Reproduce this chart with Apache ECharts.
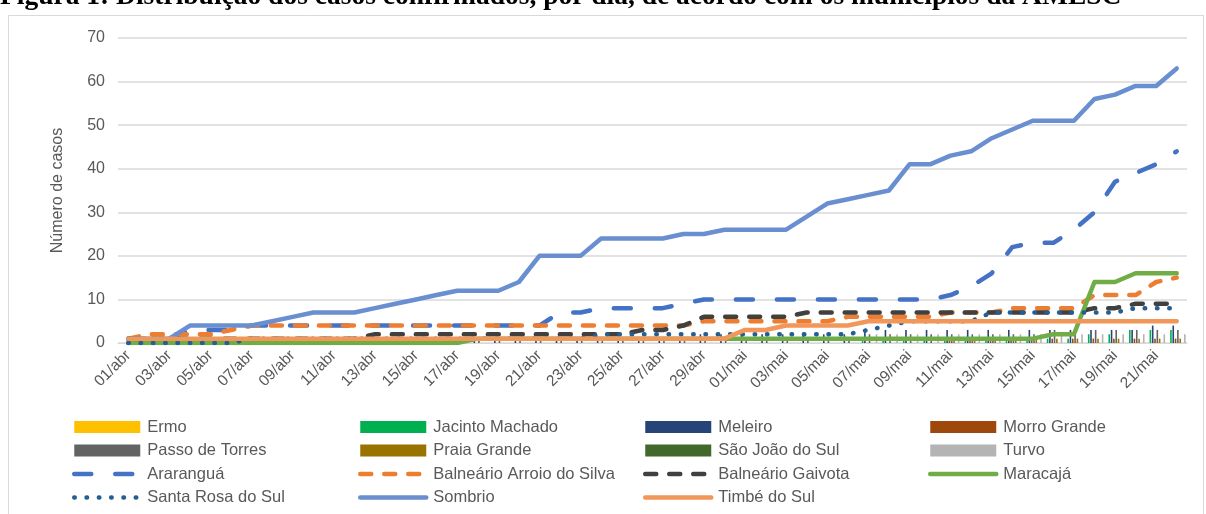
<!DOCTYPE html>
<html>
<head>
<meta charset="utf-8">
<script src="https://cdn.jsdelivr.net/npm/echarts@6/dist/echarts.min.js"></script>
<style>
html,body{margin:0;padding:0;background:#fff;}
#c{width:1206px;height:514px;}
</style>
</head>
<body>
<div id="c"></div>
<script>
const categories = ["01/abr","02/abr","03/abr","04/abr","05/abr","06/abr","07/abr","08/abr","09/abr","10/abr",
"11/abr","12/abr","13/abr","14/abr","15/abr","16/abr","17/abr","18/abr","19/abr","20/abr",
"21/abr","22/abr","23/abr","24/abr","25/abr","26/abr","27/abr","28/abr","29/abr","30/abr",
"01/mai","02/mai","03/mai","04/mai","05/mai","06/mai","07/mai","08/mai","09/mai","10/mai",
"11/mai","12/mai","13/mai","14/mai","15/mai","16/mai","17/mai","18/mai","19/mai","20/mai",
"21/mai","22/mai"];

// bar series (small municipalities)
const ermo =          [0,0,0,0,0,0,0,0,0,0, 0,0,0,0,0,0,0,0,0,0, 0,0,0,0,0,0,0,0,0,0, 0,0,0,0,0,0,0,0,0,0, 0,0,0,0,0,0,0,0,0,0, 0,0];
const jacinto =       [0,0,0,0,0,0,0,0,0,0, 0,0,0,0,0,0,0,0,0,0, 0,0,0,0,0,0,0,0,0,0, 0,0,0,0,0,0,1,1,1,1, 1,1,1,1,1,1,1,2,2,3, 3,3];
const meleiro =       [0,0,0,0,0,0,0,0,0,0, 0,0,0,0,0,0,0,1,1,1, 1,1,1,1,1,1,1,1,2,2, 2,2,2,2,2,2,3,3,3,3, 3,3,3,3,3,3,3,3,3,3, 4,4];
const morroGrande =   [0,0,0,0,0,0,0,0,0,0, 0,0,0,0,0,0,0,0,0,0, 0,0,0,0,0,0,0,0,0,0, 0,0,0,0,0,0,0,0,0,0, 1,1,1,1,1,1,1,1,1,1, 1,1];
const passoTorres =   [0,0,0,0,0,0,0,0,0,0, 0,0,0,0,0,0,0,1,1,1, 1,1,1,1,1,1,1,1,1,1, 1,1,1,1,1,1,2,2,2,2, 2,2,2,2,2,3,3,3,3,3, 3,3];
const praiaGrande =   [0,0,0,0,0,0,0,0,0,0, 0,0,0,0,0,0,0,0,0,0, 0,0,0,0,0,0,0,0,0,0, 0,0,0,0,0,0,0,0,0,0, 1,1,1,1,1,1,1,1,1,1, 1,1];
const saoJoao =       [0,0,0,0,0,0,0,0,0,0, 0,0,0,0,0,0,0,0,0,0, 0,0,0,0,0,0,0,0,0,0, 0,0,0,0,0,0,0,0,0,0, 0,0,0,0,0,0,0,0,0,0, 0,0];
const turvo =         [0,0,0,0,0,0,0,0,0,0, 0,0,0,0,0,0,0,0,0,0, 0,0,0,0,0,0,0,0,0,0, 0,0,0,0,0,0,2,2,2,2, 2,2,2,2,2,2,2,2,2,2, 2,2];

// line series
const ararangua =     [1,1,1,3,3,3,4,4,4,4, 4,4,4,4,4,4,4,4,4,4, 4,7,7,8,8,8,8,9,10,10, 10,10,10,10,10,10,10,10,10,10, 11,13,16,22,23,23,26,30,37,39, 41,44];
const arroioSilva =   [1,2,2,2,2,3,4,4,4,4, 4,4,4,4,4,4,4,4,4,4, 4,4,4,4,4,4,4,4,5,5, 5,5,5,5,5,6,6,6,6,6, 7,7,7,8,8,8,8,11,11,11, 14,15];
const gaivota =       [1,1,1,1,1,1,1,1,1,1, 1,1,2,2,2,2,2,2,2,2, 2,2,2,2,2,3,3,4,6,6, 6,6,6,7,7,7,7,7,7,7, 7,7,7,7,7,7,7,8,8,9, 9,9];
const maracaja =      [0,0,0,0,0,0,0,0,0,0, 0,0,0,0,0,0,0,1,1,1, 1,1,1,1,1,1,1,1,1,1, 1,1,1,1,1,1,1,1,1,1, 1,1,1,1,1,2,2,14,14,16, 16,16];
const santaRosa =     [0,0,0,0,0,0,1,1,1,1, 1,1,1,1,1,1,1,1,1,1, 1,1,1,2,2,2,2,2,2,2, 2,2,2,2,2,2,3,4,5,5, 5,5,7,7,7,7,7,7,7,8, 8,8];
const sombrio =       [1,1,1,4,4,4,4,5,6,7, 7,7,8,9,10,11,12,12,12,14, 20,20,20,24,24,24,24,25,25,26, 26,26,26,29,32,33,34,35,41,41, 43,44,47,49,51,51,51,56,57,59, 59,63];
const timbe =         [1,1,1,1,1,1,1,1,1,1, 1,1,1,1,1,1,1,1,1,1, 1,1,1,1,1,1,1,1,1,1, 3,3,4,4,4,4,5,5,5,5, 5,5,5,5,5,5,5,5,5,5, 5,5];

const yTicks = {min: 0, max: 70, interval: 10};

const barDefs = [
  ["Ermo", ermo, "#FFC000"],
  ["Jacinto Machado", jacinto, "#00B050"],
  ["Meleiro", meleiro, "#264478"],
  ["Morro Grande", morroGrande, "#9E480E"],
  ["Passo de Torres", passoTorres, "#636363"],
  ["Praia Grande", praiaGrande, "#997300"],
  ["São João do Sul", saoJoao, "#43682B"],
  ["Turvo", turvo, "#B4B4B4"]
];
const lineDefs = [
  ["Araranguá", ararangua, "#4472C4", [17, 24]],
  ["Balneário Arroio do Silva", arroioSilva, "#ED7D31", [11, 13]],
  ["Balneário Gaivota", gaivota, "#404040", [11, 13]],
  ["Maracajá", maracaja, "#70AD47", null],
  ["Santa Rosa do Sul", santaRosa, "#255E91", [0.5, 11.8]],
  ["Sombrio", sombrio, "#6A8FD0", null],
  ["Timbé do Sul", timbe, "#F1975A", null]
];

const series = [];
barDefs.forEach(d => series.push({
  name: d[0], type: "bar", data: d[1], barWidth: 1.6, barGap: "45%",
  itemStyle: {color: d[2]}
}));
lineDefs.forEach(d => series.push({
  name: d[0], type: "line", data: d[1], symbol: "none", showSymbol: false,
  itemStyle: {color: d[2]},
  lineStyle: {color: d[2], width: 4.5, type: d[3] ? d[3] : "solid", cap: "round", join: "round"}
}));

const legendText = {color: "#595959", fontSize: 16.5, lineHeight: 18, fontFamily: "Liberation Sans", padding: [0, 0, 0, 2]};
function mkLegend(left, names) {
  return {
    orient: "vertical", left: left, top: 418, padding: 0,
    itemWidth: 66, itemHeight: 12, itemGap: 5.5,
    textStyle: legendText,
    lineStyle: {width: 4.5, cap: "round"},
    data: names.map(n => barDefs.some(b => b[0] === n)
      ? {name: n, icon: "rect"}
      : {name: n, itemStyle: {color: "rgba(0,0,0,0)", borderWidth: 0, opacity: 0}})
  };
}

const chart = echarts.init(document.getElementById("c"));
chart.setOption({
  animation: false,
  backgroundColor: "#fff",
  graphic: [
    {type: "rect", shape: {x: 8.5, y: 15.5, width: 1195, height: 520}, style: {fill: "none", stroke: "#D9D9D9", lineWidth: 1}, z: -10},
    {type: "text", left: 0, top: -17, style: {text: "Figura 1: Distribuição dos casos confirmados, por dia, de acordo com os municípios da AMESC", font: "bold 27.5px 'Liberation Serif'", fill: "#000"}}
  ],
  grid: {left: 118, top: 38, width: 1069, height: 305, containLabel: false},
  legend: [
    mkLegend(72, ["Ermo", "Passo de Torres", "Araranguá", "Santa Rosa do Sul"]),
    mkLegend(358, ["Jacinto Machado", "Praia Grande", "Balneário Arroio do Silva", "Sombrio"]),
    mkLegend(643, ["Meleiro", "São João do Sul", "Balneário Gaivota", "Timbé do Sul"]),
    mkLegend(928, ["Morro Grande", "Turvo", "Maracajá"])
  ],
  xAxis: {
    type: "category", data: categories, boundaryGap: true,
    axisLine: {lineStyle: {color: "#D9D9D9", width: 1}},
    axisTick: {show: false},
    axisLabel: {interval: 1, rotate: 45, color: "#595959", fontSize: 15.5, fontFamily: "Liberation Sans", margin: 10}
  },
  yAxis: {
    type: "value", min: yTicks.min, max: yTicks.max, interval: yTicks.interval,
    name: "Número de casos", nameLocation: "middle", nameGap: 52, nameRotate: 90,
    nameTextStyle: {color: "#595959", fontSize: 16, fontFamily: "Liberation Sans"},
    axisLine: {show: false}, axisTick: {show: false},
    axisLabel: {color: "#595959", fontSize: 16, fontFamily: "Liberation Sans", margin: 13},
    splitLine: {lineStyle: {color: "#D9D9D9", width: 1.5}}
  },
  series: series
});
</script>
</body>
</html>
